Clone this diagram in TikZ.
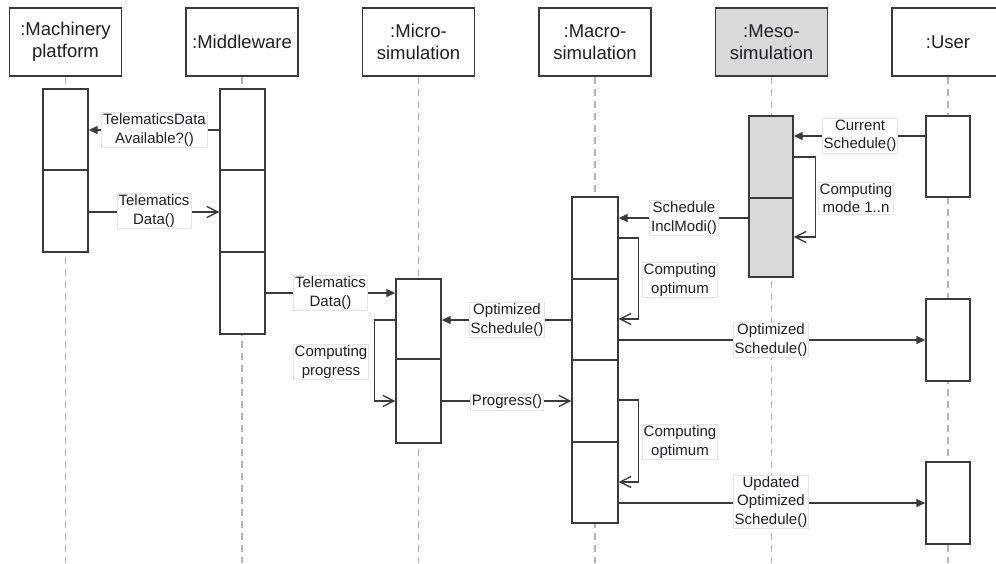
\documentclass[tikz,border=0pt]{standalone}
\usepackage{fontspec}
\setmainfont{Liberation Sans}
\usetikzlibrary{arrows.meta}
\definecolor{ln}{HTML}{3A3A3A}
\definecolor{txt}{HTML}{1E1E2A}
\definecolor{life}{HTML}{B4B4B4}
\definecolor{meso}{HTML}{D9D9D9}
\definecolor{lblb}{HTML}{E4E4E4}
\tikzset{
  head/.style={draw=ln, line width=1.4pt, fill=white, minimum width=112pt, minimum height=68pt, inner sep=0pt, align=center, text=txt, font=\fontsize{18.5}{22}\selectfont},
  lifeline/.style={draw=life, line width=1.2pt, dash pattern=on 7pt off 5pt},
  act/.style={draw=ln, line width=1.4pt, fill=white, minimum width=45pt, inner sep=0pt},
  msg/.style={draw=ln, line width=1.3pt},
  sync/.style={msg, -{Triangle[length=9pt,width=8pt]}},
  reply/.style={msg, -{Straight Barb[length=11pt,width=11pt,line width=1.3pt]}},
  lbl/.style={draw=lblb, line width=0.6pt, fill=white, inner xsep=1.5pt, inner ysep=1.2pt, align=center, text=txt, font=\fontsize{15}{18.5}\selectfont}
}
\begin{document}
\begin{tikzpicture}[x=1pt,y=-1pt]
\useasboundingbox (0,0) rectangle (996,563);
% headers
\node[head] (hmach) at (65.5,42) {:Machinery\\platform};
\node[head] (hmid) at (242,42) {:Middleware};
\node[head] (hmic) at (418.5,42) {:Micro-\\simulation};
\node[head] (hmac) at (595,42) {:Macro-\\simulation};
\node[head, fill=meso] (hmes) at (771.5,42) {:Meso-\\simulation};
\node[head] (husr) at (948,42) {:User};
% lifelines
\coordinate (bmach) at (65.5,563);
\coordinate (bmid) at (242,563);
\coordinate (bmic) at (418.5,563);
\coordinate (bmac) at (595,563);
\coordinate (bmes) at (771.5,563);
\coordinate (busr) at (948,563);
\draw[lifeline] (hmach.south) -- (bmach);
\draw[lifeline] (hmid.south) -- (bmid);
\draw[lifeline] (hmic.south) -- (bmic);
\draw[lifeline] (hmac.south) -- (bmac);
\draw[lifeline] (hmes.south) -- (bmes);
\draw[lifeline] (husr.south) -- (busr);
% activations
\node[act, minimum height=81pt] (m1) at (65.5,129.5) {};
\node[act, minimum height=82pt] (m2) at (65.5,211) {};
\node[act, minimum height=81pt] (w1) at (242.5,129.5) {};
\node[act, minimum height=82pt] (w2) at (242.5,211) {};
\node[act, minimum height=82pt] (w3) at (242.5,293) {};
\node[act, minimum height=80pt] (c1) at (418.5,319) {};
\node[act, minimum height=84pt] (c2) at (418.5,401) {};
\node[act, minimum width=46pt, minimum height=82pt] (M1) at (595,238) {};
\node[act, minimum width=46pt, minimum height=81pt] (M2) at (595,319.5) {};
\node[act, minimum width=46pt, minimum height=82pt] (M3) at (595,401) {};
\node[act, minimum width=46pt, minimum height=81pt] (M4) at (595,482.5) {};
\node[act, minimum width=44pt, minimum height=82pt, fill=meso] (s1) at (771,157) {};
\node[act, minimum width=44pt, minimum height=79pt, fill=meso] (s2) at (771,237.5) {};
\node[act, minimum width=44pt, minimum height=81pt] (u1) at (948,156.5) {};
\node[act, minimum width=44pt, minimum height=82pt] (u2) at (948,340) {};
\node[act, minimum width=44pt, minimum height=82pt] (u3) at (948,503) {};
% messages
\draw[sync] (w1.west |- 0,130) -- (m1.east |- 0,130);
\draw[reply] (m2.east |- 0,212) -- (w2.west |- 0,212);
\draw[sync] (w3.east |- 0,293) -- (c1.west |- 0,293);
\draw[reply] (c1.west |- 0,320) -- ++(-21,0) |- (c2.west |- 0,401);
\draw[sync] (M2.west |- 0,320) -- (c1.east |- 0,320);
\draw[reply] (c2.east |- 0,401) -- (M3.west |- 0,401);
\draw[sync] (u1.west |- 0,136) -- (s1.east |- 0,136);
\draw[reply] (s1.east |- 0,157) -- ++(22,0) |- (s2.east |- 0,237);
\draw[sync] (s2.west |- 0,218) -- (M1.east |- 0,218);
\draw[reply] (M1.east |- 0,238) -- ++(20,0) |- (M2.east |- 0,319);
\draw[sync] (M2.east |- 0,340) -- (u2.west |- 0,340);
\draw[reply] (M3.east |- 0,400) -- ++(20,0) |- (M4.east |- 0,482);
\draw[sync] (M4.east |- 0,503) -- (u3.west |- 0,503);
% labels
\node[lbl] (l1) at (154.5,130) {TelematicsData\\Available?()};
\node[lbl] (l2) at (154,211) {Telematics\\Data()};
\node[lbl] (l3) at (330.5,293) {Telematics\\Data()};
\node[lbl] (l4) at (331,362) {Computing\\progress};
\node[lbl] (l5) at (507,320) {Optimized\\Schedule()};
\node[lbl] (l6) at (507,402) {Progress()};
\node[lbl] (l7) at (860,136) {Current\\Schedule()};
\node[lbl] (l8) at (856,198) {Computing\\mode 1..n};
\node[lbl] (l9) at (684,218) {Schedule\\InclModi()};
\node[lbl] (l10) at (680,280) {Computing\\optimum};
\node[lbl] (l11) at (771,340) {Optimized\\Schedule()};
\node[lbl] (l12) at (680,442) {Computing\\optimum};
\node[lbl] (l13) at (771,502) {Updated\\Optimized\\Schedule()};
\end{tikzpicture}
\end{document}
